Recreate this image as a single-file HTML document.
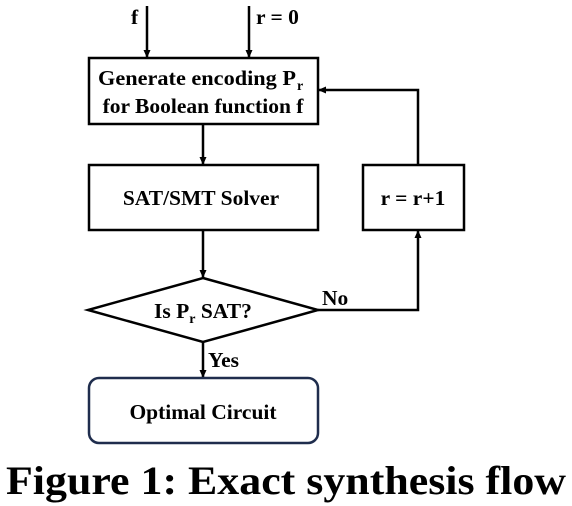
<!DOCTYPE html>
<html><head><style>body{margin:0;background:#fff}svg{display:block}</style></head><body>
<svg width="572" height="506" viewBox="0 0 572 506" xmlns="http://www.w3.org/2000/svg">
<defs><marker id="a" markerWidth="8" markerHeight="8" refX="7" refY="4" orient="auto" markerUnits="userSpaceOnUse"><path d="M0,0.5 L8,4 L0,7.5 Z" fill="#000"/></marker></defs>
<g stroke="#000" stroke-width="2.5" fill="none">
<line x1="147" y1="6" x2="147" y2="57" marker-end="url(#a)"/>
<line x1="249" y1="6" x2="249" y2="57" marker-end="url(#a)"/>
<rect x="89" y="58" width="229" height="66" fill="#fff"/>
<line x1="203" y1="124" x2="203" y2="164" marker-end="url(#a)"/>
<rect x="89" y="165" width="229" height="65" fill="#fff"/>
<rect x="363" y="165" width="101" height="65" fill="#fff"/>
<line x1="203" y1="230" x2="203" y2="277" marker-end="url(#a)"/>
<polygon points="203,278 318,310 203,342 88,310" fill="#fff"/>
<polyline points="318,310 418,310 418,231" marker-end="url(#a)"/>
<polyline points="418,165 418,90 319,90" marker-end="url(#a)"/>
<line x1="203" y1="342" x2="203" y2="377" marker-end="url(#a)"/>
<rect x="89" y="378" width="229" height="65" rx="10" stroke="#1f2d4d"/>
</g>
<g font-family="'Liberation Serif',serif" font-weight="bold" font-size="21.5" fill="#000">
<text x="131" y="24">f</text>
<text x="256" y="24">r = 0</text>
<text x="98" y="85" textLength="198" lengthAdjust="spacingAndGlyphs">Generate encoding P</text>
<text x="297" y="90" font-size="14">r</text>
<text x="203" y="113" text-anchor="middle">for Boolean function f</text>
<text x="201" y="205" text-anchor="middle">SAT/SMT Solver</text>
<text x="413" y="205" text-anchor="middle">r = r+1</text>
<text x="154" y="318">Is P<tspan font-size="14" dy="5">r</tspan><tspan dy="-5"> SAT?</tspan></text>
<text x="322" y="305">No</text>
<text x="208" y="367">Yes</text>
<text x="203" y="419" text-anchor="middle">Optimal Circuit</text>
</g>
<text x="6" y="494" font-family="'Liberation Serif',serif" font-weight="bold" font-size="40" textLength="560" lengthAdjust="spacingAndGlyphs">Figure 1: Exact synthesis flow</text>
</svg>
</body></html>
